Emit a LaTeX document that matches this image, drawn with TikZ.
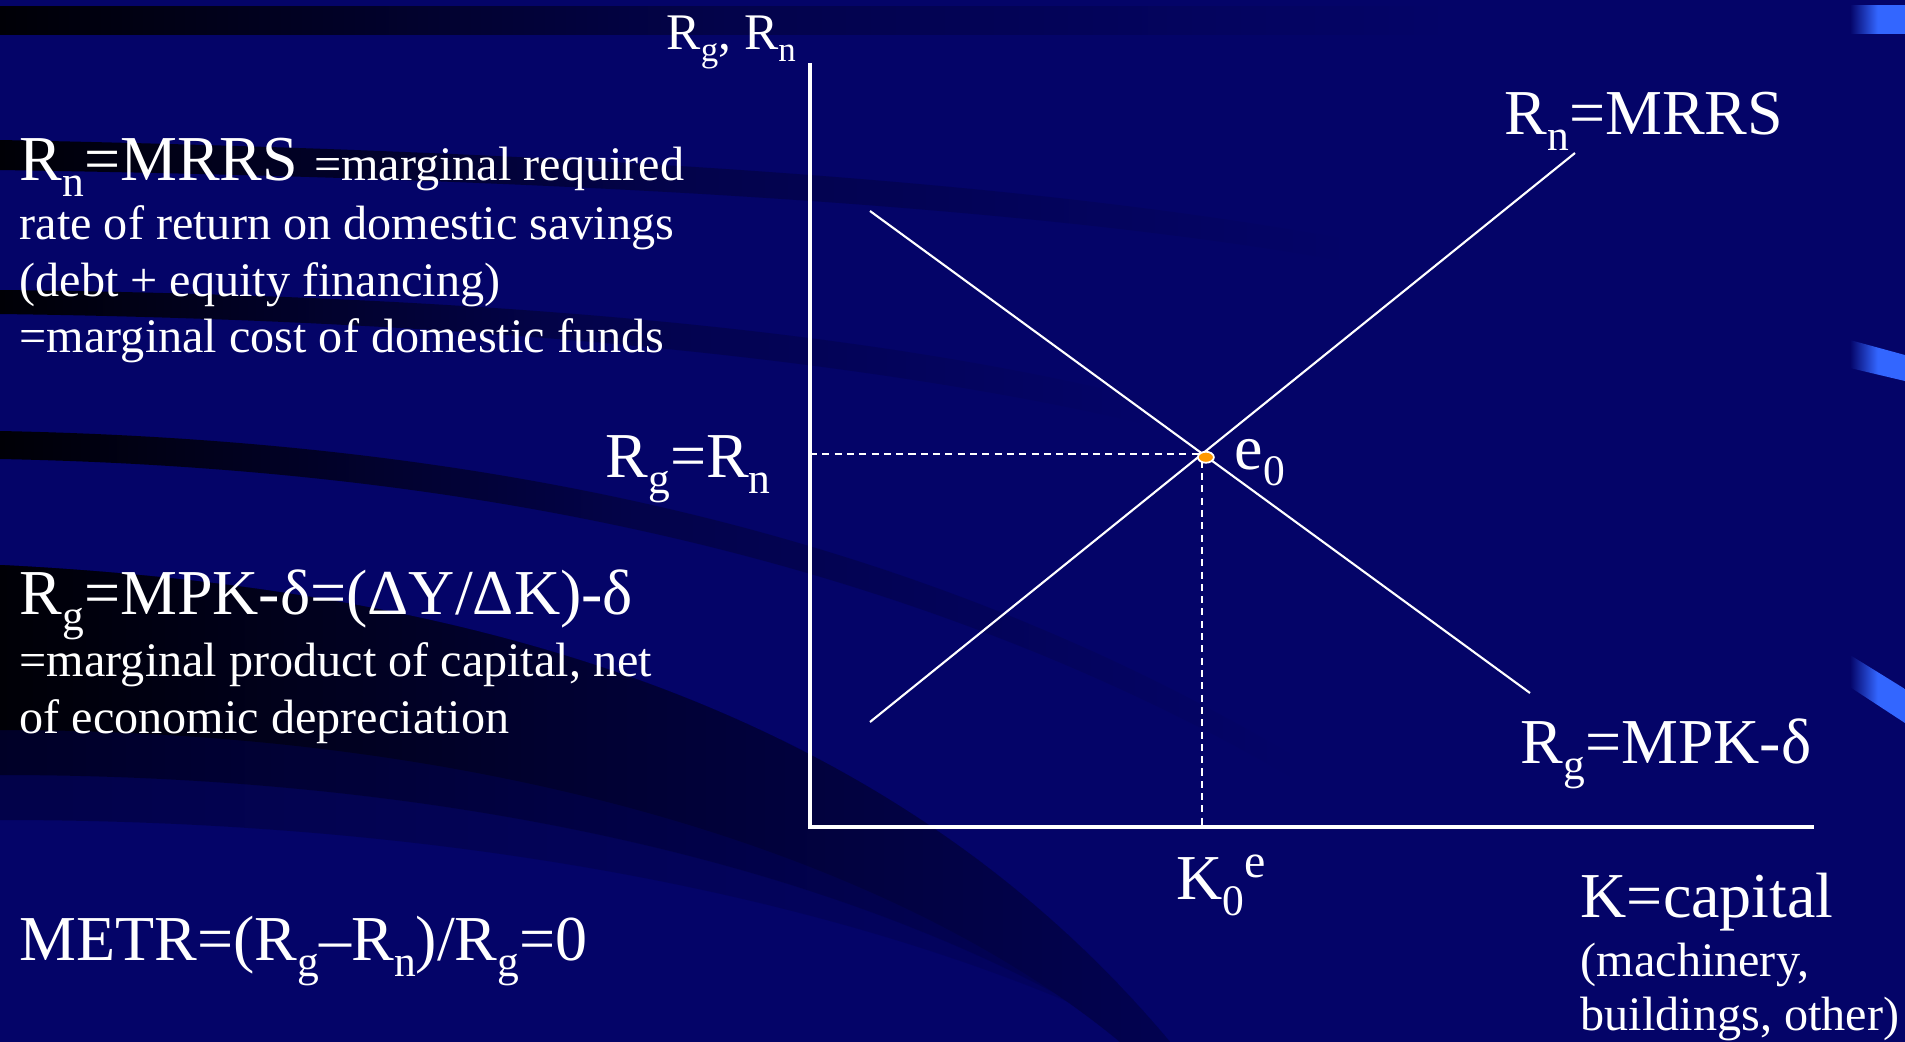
\documentclass[tikz,border=0pt]{standalone}
\usepackage{fontspec}
\setmainfont{Liberation Serif}
\usepackage{graphicx}
\usepackage{tikz}
\usetikzlibrary{positioning,shapes.geometric}
\definecolor{slidenavy}{RGB}{4,4,104}
\definecolor{swooshdark}{RGB}{0,0,6}
\definecolor{swooshfade}{RGB}{2,2,80}
\definecolor{barblue}{RGB}{51,102,255}
\definecolor{dotorange}{RGB}{255,153,0}
\newcommand{\lo}[1]{\raisebox{-0.25em}{\scalebox{0.68}{#1}}}
\newcommand{\hi}[1]{\raisebox{0.34em}{\scalebox{0.75}{#1}}}
\tikzset{
  lbl/.style={anchor=base west,inner sep=0pt,text=white},
  bigtxt/.style={lbl,font=\fontsize{18.2}{22}\selectfont},
  smalltxt/.style={lbl,font=\fontsize{13.7}{16}\selectfont},
  axisline/.style={white,line width=0.9pt},
  curve/.style={white,line width=0.6pt},
  guide/.style={white,line width=0.6pt,dash pattern=on 2pt off 1.5pt},
  swoosh/.style={left color=swooshdark,right color=slidenavy,
    middle color=slidenavy!70!swooshdark},
  bigswoosh/.style={left color=swooshdark,right color=swooshfade,
    middle color=swooshfade!60!swooshdark},
  bar/.style={left color=slidenavy,right color=barblue,middle color=barblue},
  eqdot/.style={ellipse,fill=dotorange,draw=white,line width=0.5pt,
    inner sep=0pt,minimum width=0.16cm,minimum height=0.11cm}
}

\begin{document}
\begin{tikzpicture}[x=0.01cm,y=-0.01cm]
  \useasboundingbox (0,0) rectangle (1905,1042);
  % slide background
  \fill[slidenavy] (0,0) rectangle (1905,1042);
  \shade[swoosh] (0,6) rectangle (1450,34);
  \shade[swoosh] (0,140) .. controls (500,150) and (1000,175) .. (1350,240)
    -- (1350,262) .. controls (1000,200) and (500,178) .. (0,170) -- cycle;
  \shade[swoosh] (0,290) .. controls (450,295) and (850,325) .. (1150,400)
    -- (1150,425) .. controls (850,355) and (450,320) .. (0,314) -- cycle;
  \shade[swoosh] (0,431) .. controls (450,440) and (900,520) .. (1300,760)
    -- (1300,782) .. controls (900,550) and (450,468) .. (0,459) -- cycle;
  % wide dark swoosh, softened at its lower edge
  \foreach \dy/\op in {90/0.3,45/0.5,0/1}
    \shade[bigswoosh,opacity=\op]
      (0,565) .. controls (500,590) and (900,720) .. (1170,1042)
      -- (1120+\dy*0.4,1042) .. controls (900,860+\dy*0.6) and (500,730+\dy) .. (0,730+\dy) -- cycle;
  \shade[bar] (1850,5) rectangle (1905,33);
  \shade[bar] (1850,340) -- (1905,355) -- (1905,381) -- (1850,368) -- cycle;
  \shade[bar] (1850,655) -- (1905,689) -- (1905,723) -- (1850,687) -- cycle;

  % axes and schedules
  \coordinate (O) at (810,827);
  \coordinate (ytop) at (810,63);
  \coordinate (xend) at (1814,827);
  \coordinate (rnlo) at (870,722);
  \coordinate (rnhi) at (1575,153);
  \coordinate (rghi) at (870,211);
  \coordinate (rglo) at (1530,693);
  \coordinate (e0) at (intersection of rnlo--rnhi and rghi--rglo);

  \draw[axisline] (ytop) -- (O) -- (xend);
  \draw[curve] (rnlo) -- (rnhi);
  \draw[curve] (rghi) -- (rglo);
  \draw[guide] (O |- e0) -- (e0);
  \draw[guide] ([yshift=-2pt]e0) -- (e0 |- O);
  \node[eqdot,xshift=1pt,yshift=-1pt] (dot) at (e0) {};

  % graph labels
  \node[lbl,font=\fontsize{14.6}{17}\selectfont] (yname) at (666,49) {R\lo{g}, R\lo{n}};
  \node[bigtxt] (eqlev) at (605,477) {R\lo{g}=R\lo{n}};
  \node[bigtxt] (elbl) at (1234,469) {e\lo{0}};
  \node[bigtxt] (rnlbl) at (1504,134) {R\lo{n}=MRRS};
  \node[bigtxt] (rglbl) at (1520,763) {R\lo{g}=MPK-δ};
  \node[bigtxt] (kstar) at (1176,899) {K\lo{0}\hi{e}};
  \node[bigtxt] (kname) at (1580,917) {K=capital};
  \node[smalltxt] (kname2) at (1580,976) {(machinery,};
  \node[smalltxt] (kname3) at (1580,1030) {buildings, other)};

  % definitions on the left
  \node[bigtxt] (rndef) at (19,180) {R\lo{n}=MRRS {\fontsize{13.7}{16}\selectfont =marginal required}};
  \node[smalltxt] (rndef2) at (19,239) {rate of return on domestic savings};
  \node[smalltxt] (rndef3) at (19,296) {(debt + equity financing)};
  \node[smalltxt] (rndef4) at (19,352) {=marginal cost of domestic funds};
  \node[bigtxt] (rgdef) at (19,614) {R\lo{g}=MPK-δ=(ΔY/ΔK)-δ};
  \node[smalltxt] (rgdef2) at (19,676) {=marginal product of capital, net};
  \node[smalltxt] (rgdef3) at (19,733) {of economic depreciation};
  \node[bigtxt] (metr) at (19,960) {METR=(R\lo{g}–R\lo{n})/R\lo{g}=0};
\end{tikzpicture}
\end{document}
